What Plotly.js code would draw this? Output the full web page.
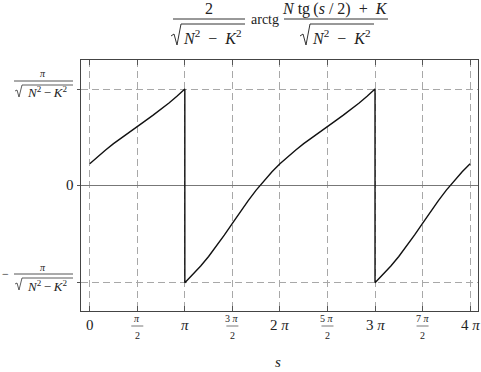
<!DOCTYPE html>
<html>
<head>
<meta charset="utf-8">
<script src="https://cdn.plot.ly/plotly-3.0.1.min.js"></script>
<style>html,body{margin:0;padding:0;background:#fff;}#chart{width:481px;height:372px;}</style>
</head>
<body>
<div id="chart"></div>
<script>
// ---- data (s in units of pi/12, y in units of pi/sqrt(N^2-K^2)) ----
const sTwelfths = [0,1,2,3,4,5,6,7,8,9,10,11,12,12,13,14,15,16,17,18,19,20,21,22,23,24,
  25,26,27,28,29,30,31,32,33,34,35,36,36,37,38,39,40,41,42,43,44,45,46,47,48];
const yValues = [0.228,0.302,0.371,0.436,0.497,0.556,0.614,0.672,0.731,0.792,0.856,0.925,1.000,
  -1.000,-0.918,-0.828,-0.729,-0.621,-0.506,-0.386,-0.267,-0.152,-0.044,0.056,0.146,0.228,
  0.302,0.371,0.436,0.497,0.556,0.614,0.672,0.731,0.792,0.856,0.925,1.000,
  -1.000,-0.918,-0.828,-0.729,-0.621,-0.506,-0.386,-0.267,-0.152,-0.044,0.056,0.146,0.228];
const xTickVals = [0,0.5,1,1.5,2,2.5,3,3.5,4];          // in units of pi
const xTickNum  = ["0","<i>π</i>","<i>π</i>","3 <i>π</i>","2 <i>π</i>","5 <i>π</i>","3 <i>π</i>","7 <i>π</i>","4 <i>π</i>"];
const xTickDen  = ["","2","","2","","2","","2",""];
const yTickVals = [-1,0,1];
const xTitle = "<i>s</i>";

// ---- layout helpers ----
const L=81,R=478,T=60,B=311;
const FONT="Liberation Serif, 'Times New Roman', 'DejaVu Serif', serif";
const px=x=>(x-L)/(R-L), py=y=>(B-y)/(B-T);
const annotations=[], shapes=[];
function txt(text,x,y,size,xa){annotations.push({text:text,x:px(x),y:py(y),xref:'paper',yref:'paper',
  showarrow:false,xanchor:xa||'center',yanchor:'middle',borderpad:0,font:{family:FONT,size:size,color:'#222'}});}
function hl(x0,x1,y,w,c){shapes.push({type:'line',xref:'paper',yref:'paper',x0:px(x0),x1:px(x1),y0:py(y),y1:py(y),
  line:{color:c||'#333',width:w||1}});}
function radical(pts,w){let d='';pts.forEach((p,i)=>{d+=(i?' L ':'M ')+px(p[0])+','+py(p[1]);});
  shapes.push({type:'path',xref:'paper',yref:'paper',path:d,line:{color:'#333',width:w||1}});}
const SP="\u2002", TH="\u2009";
const rad = "<i>N</i><sup>2</sup>"+SP+"−"+SP+"<i>K</i><sup>2</sup>";
const radTight = "<i>N</i><sup>2</sup>"+TH+"−"+TH+"<i>K</i><sup>2</sup>";

// title
txt("2",209,9,16);
hl(173,245,19);
radical([[171,36],[174,34],[177,45],[181,24],[245,24]]);
txt(rad,212,37,16);
txt("arctg",265,20,14);
txt("<i>N</i> tg"+TH+"(<i>s</i> / 2)"+SP+"+"+SP+"<i>K</i>",335,9,16);
hl(284,388,19);
radical([[300,36],[303,34],[306,45],[310,24],[374,24]]);
txt(rad,341,37,16);

// y tick labels
txt("<i>π</i>",43,74,10);
hl(14,73,81,1,'#555');
radical([[15,91],[17,90],[19,97],[22,85],[73,85]],0.8);
txt(radTight,47,92,13);
txt("0",70,185,15);
txt("−",5,274,12);
txt("<i>π</i>",43,267,10);
hl(14,73,274,1,'#555');
radical([[15,284],[17,283],[19,290],[22,278],[73,278]],0.8);
txt(radTight,47,286,13);

// x tick labels
xTickVals.forEach((v,i)=>{
  const xp = L + (v-(-0.092))/(4.083+0.092)*(R-L);
  if(xTickDen[i]===""){ txt(xTickNum[i],xp,325,15); }
  else { txt(xTickNum[i],xp,318,10); hl(xp-6,xp+6,326,0.8,'#555'); txt(xTickDen[i],xp,335,10); }
});
txt(xTitle,278,362,15);

const trace={x:sTwelfths.map(k=>k/12),y:yValues,mode:'lines',type:'scatter',
  line:{color:'#111',width:1.4},hoverinfo:'skip'};

const layout={width:481,height:372,margin:{l:L,r:481-R,t:T,b:372-B},
  paper_bgcolor:'#fff',plot_bgcolor:'#fff',showlegend:false,
  xaxis:{range:[-0.092,4.083],tickvals:xTickVals,showticklabels:false,ticks:'inside',ticklen:5,tickcolor:'#555',
    showgrid:true,gridcolor:'#a8a8a8',griddash:'7px,4px',gridwidth:1,zeroline:false,
    showline:true,linecolor:'#444',linewidth:1,mirror:'ticks'},
  yaxis:{range:[-1.292,1.30],tickvals:yTickVals,showticklabels:false,ticks:'outside',ticklen:3,tickcolor:'#555',
    showgrid:true,gridcolor:'#a8a8a8',griddash:'7px,4px',gridwidth:1,zeroline:true,zerolinecolor:'#777',zerolinewidth:1,
    showline:true,linecolor:'#444',linewidth:1,mirror:true},
  annotations:annotations,shapes:shapes};
Plotly.newPlot('chart',[trace],layout,{staticPlot:true});
</script>
</body>
</html>
